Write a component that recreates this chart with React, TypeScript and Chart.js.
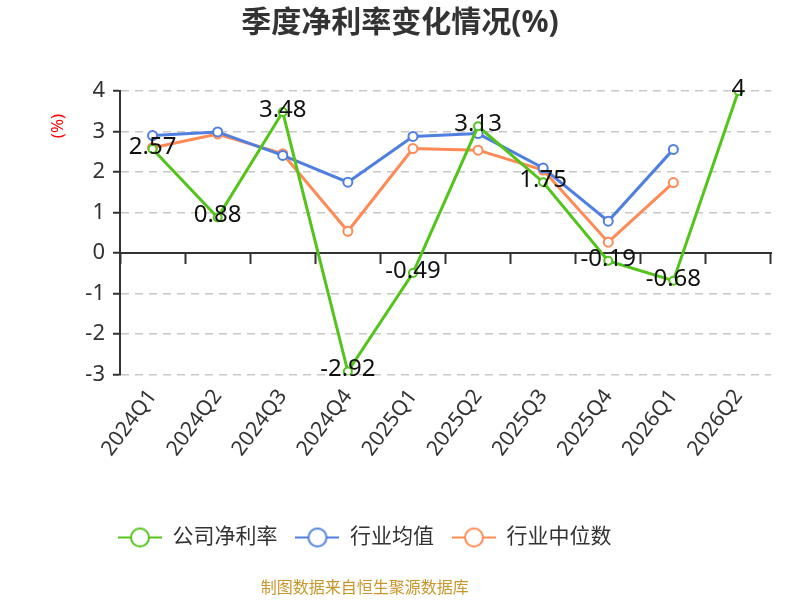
import React, { useEffect, useRef } from 'react';
import { Chart, registerables } from 'chart.js';

Chart.register(...registerables);

const categories = ['2024Q1', '2024Q2', '2024Q3', '2024Q4', '2025Q1', '2025Q2', '2025Q3', '2025Q4', '2026Q1', '2026Q2'];
const companyMargin = [2.57, 0.88, 3.48, -2.92, -0.49, 3.13, 1.75, -0.19, -0.68, 4];
const industryMean = [2.9, 2.99, 2.41, 1.75, 2.88, 2.95, 2.1, 0.79, 2.56, null];
const industryMedian = [2.6, 2.94, 2.45, 0.54, 2.58, 2.54, 2.05, 0.27, 1.74, null];
const seriesNames = ['公司净利率', '行业均值', '行业中位数'];
const seriesColors = ['#52c41a', '#4f7fe0', '#ff8a56'];
const yMin = -3;
const yMax = 4;
const titleText = '季度净利率变化情况(%)';
const sourceText = '制图数据来自恒生聚源数据库';
const yAxisTitle = '(%)';

const FONT = '"Noto Sans", "Noto Sans CJK SC", sans-serif';

export default function App() {
  const ref = useRef<HTMLCanvasElement | null>(null);

  useEffect(() => {
    if (!ref.current) return;
    const icons = seriesColors.map((c) => {
      const w = 44, h = 22;
      const cv = document.createElement('canvas');
      cv.width = w;
      cv.height = h;
      const g = cv.getContext('2d')!;
      g.strokeStyle = c;
      g.lineWidth = 2;
      g.beginPath();
      g.moveTo(0, h / 2);
      g.lineTo(w, h / 2);
      g.stroke();
      g.beginPath();
      g.arc(w / 2, h / 2, 9, 0, Math.PI * 2);
      g.fillStyle = '#fff';
      g.fill();
      g.stroke();
      return cv;
    });

    const labelPlugin = {
      id: 'valueLabels',
      afterDatasetsDraw(chart: any) {
        const ctx = chart.ctx;
        const meta = chart.getDatasetMeta(0);
        ctx.save();
        ctx.font = '24px ' + FONT;
        ctx.fillStyle = '#111';
        ctx.textAlign = 'center';
        ctx.textBaseline = 'middle';
        meta.data.forEach((el: any, i: number) => {
          const v = companyMargin[i];
          if (v === null || v === undefined) return;
          ctx.fillText(String(v), el.x, el.y - 2);
        });
        ctx.restore();
      },
    };

    // let the narrow y axis draw its labels into the left padding (widen its label clip box)
    const yClipPlugin = {
      id: 'yClip',
      afterLayout(chart: any) {
        const y = chart.scales.y;
        if (y) y.left = 0;
      },
    };

    const textPlugin = {
      id: 'texts',
      afterDraw(chart: any) {
        const ctx = chart.ctx;
        const area = chart.chartArea;
        ctx.save();
        ctx.font = 'bold 30px ' + FONT;
        ctx.fillStyle = '#333';
        ctx.textAlign = 'center';
        ctx.textBaseline = 'middle';
        ctx.fillText(titleText, chart.width / 2, 23);
        ctx.save();
        ctx.translate(area.left - 62, area.top + 35);
        ctx.rotate(-Math.PI / 2);
        ctx.font = '17px ' + FONT;
        ctx.fillStyle = '#ff0000';
        ctx.fillText(yAxisTitle, 0, 0);
        ctx.restore();
        const boxes = chart.legend && chart.legend.legendHitBoxes;
        let cx = chart.width / 2;
        if (boxes && boxes.length) {
          const first = boxes[0];
          const last = boxes[boxes.length - 1];
          cx = (first.left + last.left + last.width) / 2;
        }
        ctx.font = '16px ' + FONT;
        ctx.fillStyle = '#c8962a';
        ctx.fillText(sourceText, cx, chart.height - 12);
        ctx.restore();
      },
    };

    const datasets = [companyMargin, industryMean, industryMedian].map((d, i) => ({
      label: seriesNames[i],
      data: d,
      borderColor: seriesColors[i],
      backgroundColor: '#fff',
      borderWidth: 3,
      pointRadius: i === 0 ? 4 : 4.5,
      pointBorderWidth: 2,
      pointBackgroundColor: '#fff',
      pointBorderColor: seriesColors[i],
      tension: 0,
      spanGaps: false,
    }));

    const chart = new Chart(ref.current, {
      type: 'line',
      data: { labels: categories, datasets },
      plugins: [labelPlugin, yClipPlugin, textPlugin],
      options: {
        animation: false,
        responsive: false,
        maintainAspectRatio: false,
        layout: { padding: { left: 100, right: 29, top: 91, bottom: 42 } },
        font: { family: FONT },
        plugins: {
          title: { display: false },
          legend: {
            display: true,
            position: 'bottom',
            align: 'start',
            labels: {
              usePointStyle: true,
              pointStyleWidth: 44,
              boxHeight: 21,
              padding: 18,
              color: '#333',
              font: { size: 21, family: FONT },
              generateLabels: (chart: any) =>
                chart.data.datasets.map((ds: any, i: number) => ({
                  text: ds.label,
                  pointStyle: icons[i],
                  fillStyle: '#fff',
                  strokeStyle: seriesColors[i],
                  lineWidth: 0,
                  fontColor: '#333',
                  hidden: false,
                  datasetIndex: i,
                })),
            },
          },
          tooltip: { enabled: false },
        },
        scales: {
          x: {
            type: 'category',
            offset: true,
            grid: { display: false },
            border: { display: false },
            ticks: {
              color: '#333',
              font: { size: 21, family: FONT },
              maxRotation: 53,
              minRotation: 53,
              padding: 2,
              autoSkip: false,
            },
            afterFit: (s: any) => {
              s.height += 46;
            },
          },
          x2: {
            type: 'category',
            labels: categories,
            offset: true,
            position: { y: 0 },
            grid: {
              display: true,
              offset: true,
              drawOnChartArea: false,
              drawTicks: true,
              tickLength: 10,
              tickColor: '#333',
              tickWidth: 2,
            },
            border: { display: true, color: '#333', width: 2 },
            ticks: { display: false },
          },
          y: {
            min: yMin,
            max: yMax,
            ticks: {
              stepSize: 1,
              color: '#333',
              font: { size: 22, family: FONT },
              padding: 8,
            },
            grid: {
              color: (c: any) => (c.tick && c.tick.value === 0 ? 'rgba(0,0,0,0)' : '#c8c8c8'),
              lineWidth: 1.5,
              tickLength: 7,
              tickColor: '#333',
              tickWidth: 2,
            },
            border: { display: true, color: '#333', width: 2, dash: [8, 6] },
            afterFit: (s: any) => {
              s.width = 20;
            },
          },
        },
      } as any,
    });
    return () => chart.destroy();
  }, []);

  return (
    <div style={{ position: 'absolute', left: 0, top: 0, width: 800, height: 600, background: '#fff' }}>
      <canvas ref={ref} width={800} height={600} style={{ width: 800, height: 600 }} />
    </div>
  );
}
